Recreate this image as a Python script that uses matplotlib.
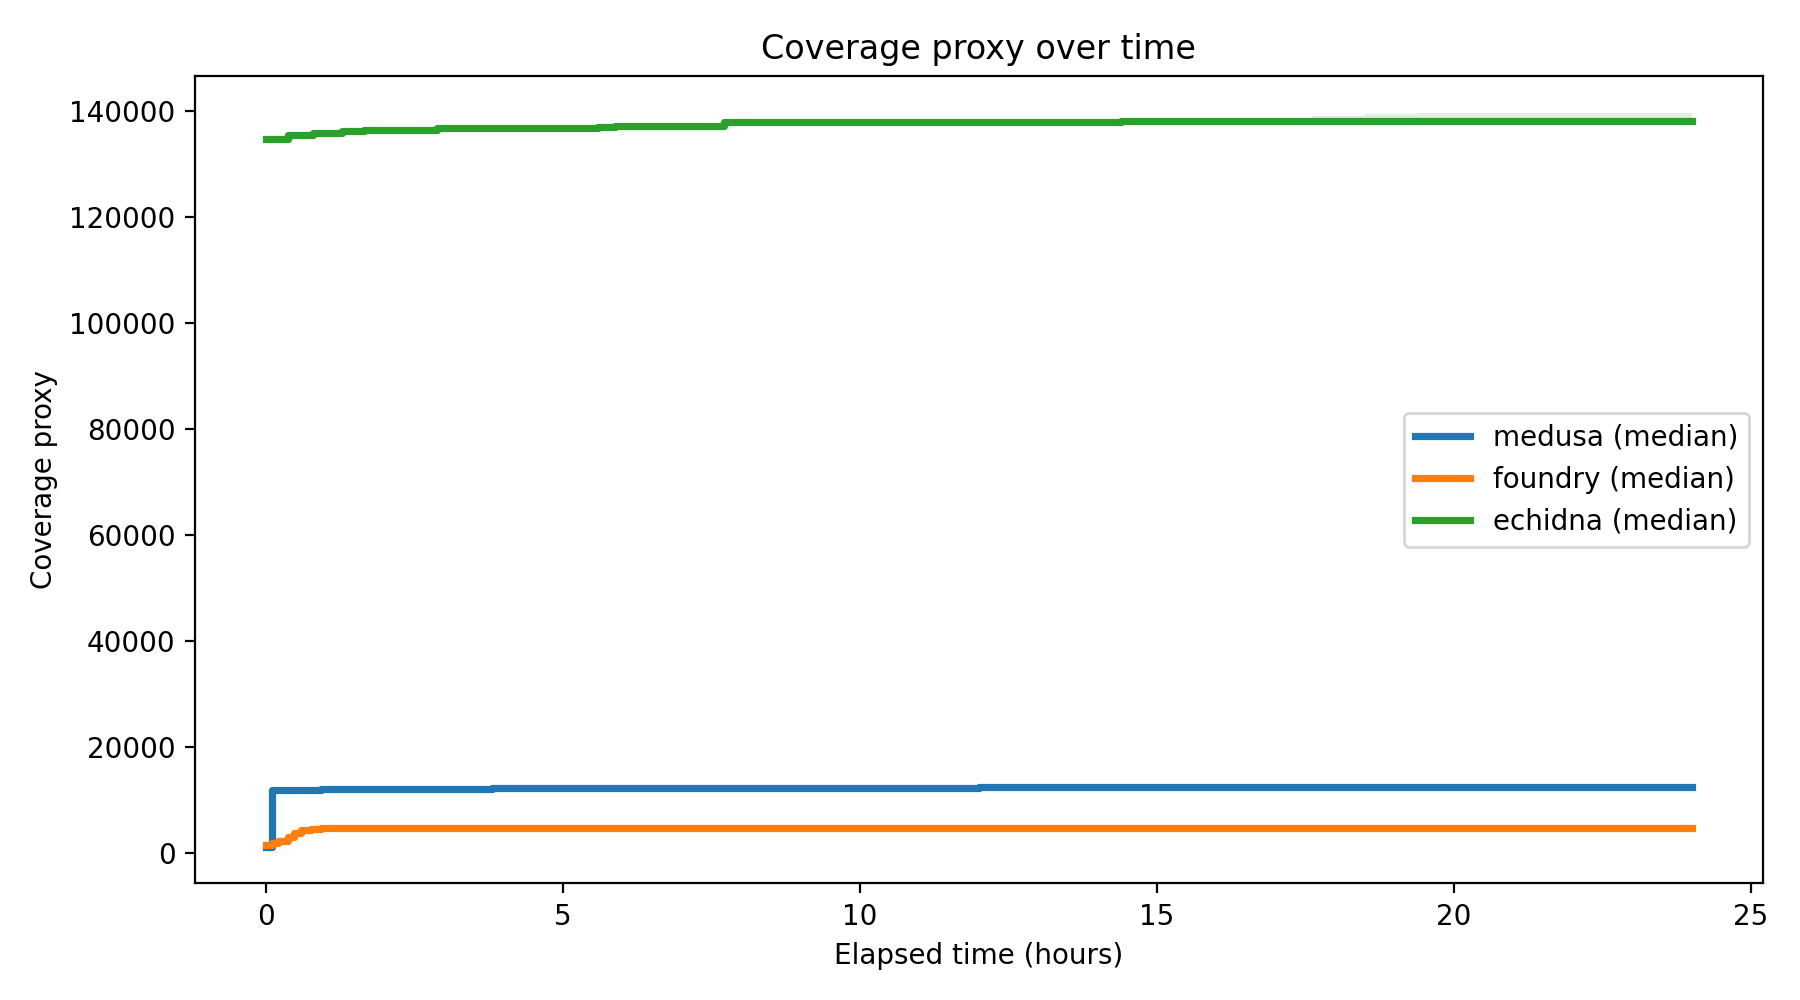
import matplotlib
matplotlib.use("Agg")
import matplotlib.pyplot as plt
import numpy as np

# medusa median coverage (steps-post)
medusa_t = [0.0, 0.10, 0.92, 3.80, 12.0, 24.0]
medusa_v = [1150, 11800, 12050, 12280, 12420, 12420]

# foundry median coverage
foundry_t = [0.0, 0.10, 0.20, 0.36, 0.47, 0.59, 0.75, 0.92, 24.0]
foundry_v = [1450, 1800, 2200, 2950, 3750, 4250, 4450, 4700, 4700]

# echidna median coverage
echidna_t = [0.0, 0.37, 0.79, 1.27, 1.65, 2.88, 5.59, 5.87, 7.71, 14.4, 24.0]
echidna_v = [134800, 135550, 135900, 136200, 136450, 136850, 137050, 137250,
             138000, 138200, 138200]

# echidna spread band (upper quantile) where visible
echidna_band_t = [17.6, 18.5, 19.4, 24.0]
echidna_band_lo = [138200, 138200, 138200, 138200]
echidna_band_hi = [139000, 139500, 139700, 139700]

labels = ["medusa (median)", "foundry (median)", "echidna (median)"]
colors = ["#1f77b4", "#ff7f0e", "#2ca02c"]

fig, ax = plt.subplots(figsize=(9, 5), dpi=200)

ax.fill_between(echidna_band_t, echidna_band_lo, echidna_band_hi,
                step="post", color=colors[2], alpha=0.15, linewidth=0, zorder=1)

for t, v, lab, c in [(medusa_t, medusa_v, labels[0], colors[0]),
                     (foundry_t, foundry_v, labels[1], colors[1]),
                     (echidna_t, echidna_v, labels[2], colors[2])]:
    ax.step(t, v, where="post", color=c, linewidth=2.6, label=lab, zorder=2)

ax.set_title("Coverage proxy over time")
ax.set_xlabel("Elapsed time (hours)")
ax.set_ylabel("Coverage proxy")
ax.legend(loc="center right")
fig.tight_layout()
fig.subplots_adjust(top=0.924)

fig.savefig("out.png", dpi=200)
